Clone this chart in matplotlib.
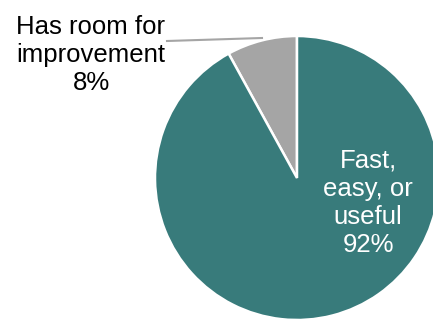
import matplotlib.pyplot as plt

labels = ['Has room for\nimprovement', 'Fast,\neasy, or\nuseful']
shares = [8, 92]
colors = ['#A5A5A5', '#387B7B']

plt.rcParams['font.family'] = ['Liberation Sans', 'DejaVu Sans']

fig = plt.figure(figsize=(4.33, 3.2), dpi=100)
ax = fig.add_axes([0, 0, 1, 1])

# pie in pixel units, slightly clipped at right and bottom
ax.pie(shares, colors=colors, startangle=90, counterclock=True,
       center=(297, 142), radius=142,
       wedgeprops=dict(edgecolor='white', linewidth=1.8))
ax.set_xlim(0, 433)
ax.set_ylim(0, 320)
ax.set_aspect('equal')
ax.axis('off')

# leader line for the small slice
ax.plot([167, 262], [279, 282], color='#A5A5A5', lw=1.5)

ax.text(91, 265, labels[0] + '\n' + str(shares[0]) + '%', ha='center', va='center',
        fontsize=18.5, color='black', linespacing=1.22)
ax.text(368, 117, labels[1] + '\n' + str(shares[1]) + '%', ha='center', va='center',
        fontsize=18.5, color='white', linespacing=1.22)

fig.savefig('out.png', dpi=100)
